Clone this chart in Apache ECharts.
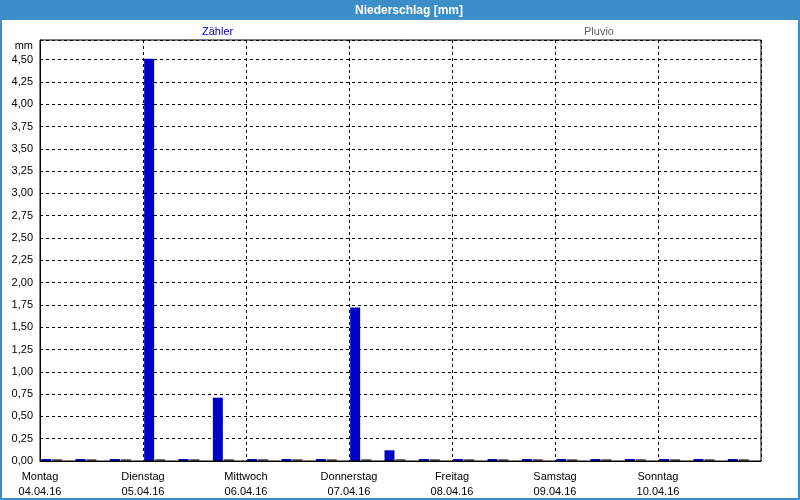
<!DOCTYPE html>
<html>
<head>
<meta charset="utf-8">
<script src="https://cdn.jsdelivr.net/npm/echarts@6/dist/echarts.min.js"></script>
<style>
html,body{margin:0;padding:0;background:#fff;}
#c{width:800px;height:500px;}
</style>
</head>
<body>
<div id="c"></div>
<script>
// 8-hour bins, 3 per day, 04.04.16 00:00 .. 10.04.16 24:00
var bins = ['04.04 00','04.04 08','04.04 16','05.04 00','05.04 08','05.04 16','06.04 00','06.04 08','06.04 16','07.04 00','07.04 08','07.04 16','08.04 00','08.04 08','08.04 16','09.04 00','09.04 08','09.04 16','10.04 00','10.04 08','10.04 16'];
var zaehler = [0,0,0,4.51,0,0.71,0,0,0,1.72,0.12,0,0,0,0,0,0,0,0,0,0];
var pluvio  = [0,0,0,0,0,0,0,0,0,0,0,0,0,0,0,0,0,0,0,0,0];
var dayNames = ['Montag','Dienstag','Mittwoch','Donnerstag','Freitag','Samstag','Sonntag'];
var dayDates = ['04.04.16','05.04.16','06.04.16','07.04.16','08.04.16','09.04.16','10.04.16'];
var yTicks = [0,0.25,0.5,0.75,1,1.25,1.5,1.75,2,2.25,2.5,2.75,3,3.25,3.5,3.75,4,4.25,4.5];

var FONT = 'Liberation Sans';
var BLUE = '#0000c8';
var GRAY = '#707070';
var FRAME = '#3c8ec8';

var chart = echarts.init(document.getElementById('c'), null, {renderer:'canvas'});
chart.setOption({
  animation:false,
  backgroundColor:'#fff',
  textStyle:{fontFamily:FONT},
  graphic:[
    {type:'rect', z:-1, shape:{x:0,y:0,width:800,height:20}, style:{fill:FRAME}},
    {type:'rect', z:-1, shape:{x:1,y:1,width:798,height:498}, style:{fill:null, stroke:FRAME, lineWidth:2}},
    {type:'text', z:10, x:409, y:11, style:{text:'Niederschlag [mm]', fill:'#fff', font:'bold 12px "Liberation Sans"', align:'center', verticalAlign:'middle'}}
  ],
  legend:[
    {data:[{name:'Zähler', textStyle:{color:BLUE}}], icon:'none', itemWidth:0, itemGap:0, left:192, top:20, itemHeight:14,
     textStyle:{fontSize:11, fontFamily:FONT}, selectedMode:false},
    {data:[{name:'Pluvio', textStyle:{color:'#606060'}}], icon:'none', itemWidth:0, itemGap:0, left:574, top:20, itemHeight:14,
     textStyle:{fontSize:11, fontFamily:FONT}, selectedMode:false}
  ],
  grid:{left:40, right:39, top:40, bottom:39, containLabel:false, show:true, borderColor:'#000', borderWidth:1, backgroundColor:'transparent', z:5},
  xAxis:[
    {type:'category', data:bins, boundaryGap:true,
     axisLine:{show:true, lineStyle:{color:'#000', width:1}},
     axisTick:{show:false}, axisLabel:{show:false}, splitLine:{show:false}},
    {type:'value', min:0, max:7, interval:1, position:'bottom',
     axisLine:{show:false}, axisTick:{show:false},
     axisLabel:{show:true, margin:8, fontSize:11, lineHeight:15, color:'#000', fontFamily:FONT,
       formatter:function(v){ var i=Math.round(v); if(i>=7) return ''; return dayNames[i]+'\n'+dayDates[i]; }},
     splitLine:{show:true, lineStyle:{color:'#000', type:[3,3], width:1}}}
  ],
  yAxis:{type:'value', min:0, max:4.72, interval:0.25,
    name:'mm', nameLocation:'end', nameGap:-6,
    nameTextStyle:{fontSize:11, color:'#000', align:'right', verticalAlign:'middle', padding:[0,7,0,0], fontFamily:FONT},
    axisLine:{show:true, lineStyle:{color:'#000'}}, axisTick:{show:false},
    axisLabel:{margin:7, fontSize:11, color:'#000', fontFamily:FONT,
      formatter:function(v){ if(yTicks.indexOf(Math.round(v*100)/100)<0) return ''; return v.toFixed(2).replace('.',','); }},
    splitLine:{show:true, lineStyle:{color:'#000', type:[3,3], width:1}}
  },
  series:[
    {name:'Zähler', type:'bar', xAxisIndex:0, data:zaehler, barWidth:10, barGap:'10%', barMinHeight:2,
     itemStyle:{color:BLUE}, z:3},
    {name:'Pluvio', type:'bar', xAxisIndex:0, data:pluvio, barWidth:10, barGap:'10%', barMinHeight:2,
     itemStyle:{color:GRAY}, z:3},
    {name:'_leer', type:'bar', xAxisIndex:0, data:bins.map(function(){return '-';}), barWidth:10, barGap:'10%'}
  ]
});
</script>
</body>
</html>
